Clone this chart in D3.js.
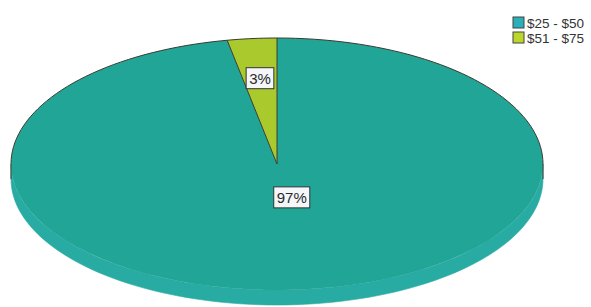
<!DOCTYPE html>
<html>
<head>
<meta charset="utf-8">
<script src="https://cdn.jsdelivr.net/npm/d3@7"></script>
<style>
  body { margin: 0; background: #fff; }
  svg { display: block; font-family: "Liberation Sans", Arial, sans-serif; }
</style>
</head>
<body>
<div id="chart"></div>
<script>
var w = 591,
  h = 307;

// data
var categories = ["$25 - $50", "$51 - $75"];
var values = [97, 3];
var labels = ["97%", "3%"];

var colors = ["#21a596", "#a9c92c"];
var sideColors = ["#27aba3", "#94b020"];
var legendColors = ["#2ab0b6", "#bcd62a"];

// ellipse geometry of the tilted pie
var cx = 277, cy = 164, rx = 266, ry = 126, depth = 15;

var svg = d3.select("#chart").append("svg").attr("width", w).attr("height", h);

var pie = d3.pie().sort(null).value(function (d) { return d; });
var arcs = pie(values);

function px(a, r) { return cx + rx * r * Math.sin(a); }
function py(a, r) { return cy - ry * r * Math.cos(a); }

function rim(a0, a1, off, p) {
  var n = 90, i = 0;
  for ( ; i <= n; i++) {
    var a = a0 + (a1 - a0) * i / n;
    p += (p == "" ? "M " : " L ") + px(a, 1) + " " + (py(a, 1) + off);
  }
  return p;
}

function topPath(d) {
  return rim(d.startAngle, d.endAngle, 0, "M " + cx + " " + cy) + " Z";
}

function sidePath(d) {
  // only the front half (pi/2 .. 3pi/2) is visible
  var a0 = Math.max(d.startAngle, Math.PI / 2);
  var a1 = Math.min(d.endAngle, Math.PI * 1.5);
  if (a1 <= a0) return null;
  var p = rim(a0, a1, 0, "");
  p = rim(a1, a0, depth, p + " ");
  return p + " Z";
}

var g = svg.append("g");

g.selectAll("path.side")
  .data(arcs)
  .enter().append("path")
  .attr("class", "side")
  .attr("d", sidePath)
  .attr("fill", function (d, i) { return sideColors[i]; })
  .attr("stroke", function (d, i) { return sideColors[i]; })
  .attr("stroke-width", 0.6);

g.selectAll("path.top")
  .data(arcs)
  .enter().append("path")
  .attr("class", "top")
  .attr("d", topPath)
  .attr("fill", function (d, i) { return colors[i]; });

// dark outline: back rim, the side edges and the slice borders
var outline = rim(-Math.PI / 2, Math.PI / 2, 0, "");
outline += " M " + px(-Math.PI / 2, 1) + " " + cy + " L " + px(-Math.PI / 2, 1) + " " + (cy + depth);
outline += " M " + px(Math.PI / 2, 1) + " " + cy + " L " + px(Math.PI / 2, 1) + " " + (cy + depth);
arcs.forEach(function (d) {
  outline += " M " + cx + " " + cy + " L " + px(d.startAngle, 1) + " " + py(d.startAngle, 1);
});
g.append("path")
  .attr("d", outline)
  .attr("fill", "none")
  .attr("stroke", "#3b3b30")
  .attr("stroke-width", 1)
  .attr("stroke-linejoin", "round");

// percent labels
var labelR = [0.27, 0.68];
var lab = g.selectAll("g.lab")
  .data(arcs)
  .enter().append("g")
  .attr("class", "lab")
  .attr("transform", function (d, i) {
    var m = (d.startAngle + d.endAngle) / 2;
    var x = px(m, labelR[i]);
    if (i == 0) x += 8;
    return "translate(" + x + "," + py(m, labelR[i]) + ")";
  });

lab.each(function (d, i) {
  var s = d3.select(this);
  var t = s.append("text")
    .attr("text-anchor", "middle")
    .attr("dy", "0.36em")
    .attr("font-size", 15)
    .attr("fill", "#2a2a2a")
    .text(labels[i]);
  var bw = t.node().getComputedTextLength() + 6;
  s.insert("rect", "text")
    .attr("x", -bw / 2).attr("y", -11)
    .attr("width", bw).attr("height", 21)
    .attr("fill", "#f4f6fa")
    .attr("stroke", "#333").attr("stroke-width", 1);
});

// legend
var legend = svg.append("g").attr("transform", "translate(513,17)");
var item = legend.selectAll("g")
  .data(categories)
  .enter().append("g")
  .attr("transform", function (d, i) { return "translate(0," + i * 15 + ")"; });
item.append("rect")
  .attr("width", 11).attr("height", 11)
  .attr("fill", function (d, i) { return legendColors[i]; })
  .attr("stroke", "#444").attr("stroke-width", 1);
item.append("text")
  .attr("x", 14).attr("y", 10.5)
  .attr("font-size", 13.5)
  .attr("fill", "#333")
  .text(function (d) { return d; });
</script>
</body>
</html>
